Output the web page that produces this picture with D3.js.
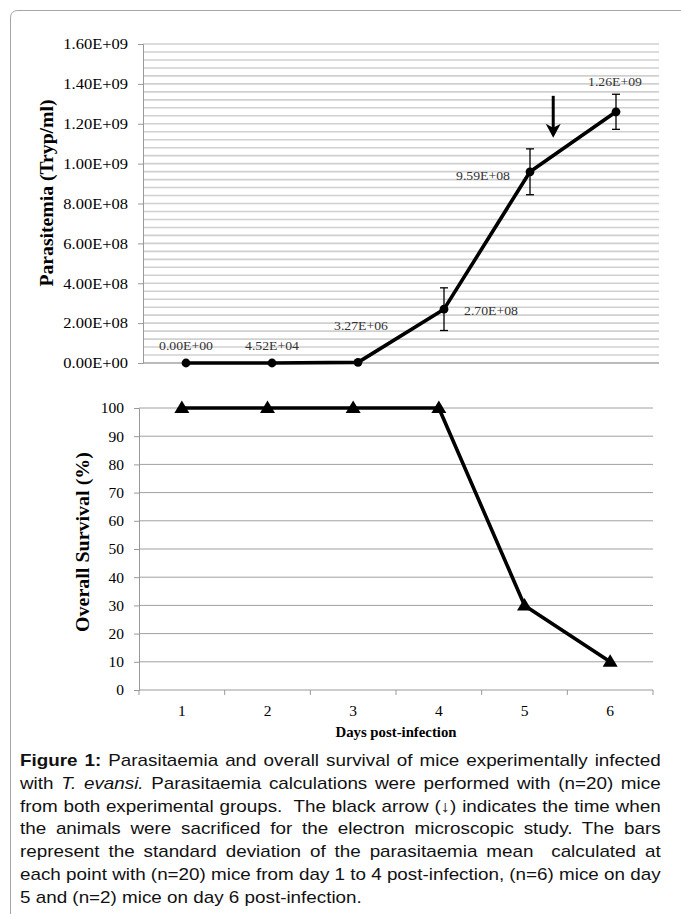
<!DOCTYPE html>
<html>
<head>
<meta charset="utf-8">
<script src="https://cdn.jsdelivr.net/npm/d3@7"></script>
<style>
  body { margin: 0; background: #fff; }
  svg { display: block; }
</style>
</head>
<body>
<div id="chart"></div>
<script>
const width = 681;
const height = 914;

// data
const days = ["1", "2", "3", "4", "5", "6"];
const parasitemia = [0, 4.52e4, 3.27e6, 2.70e8, 9.59e8, 1.26e9];
const parasitemiaSD = [0, 0, 0, 1.07e8, 1.15e8, 0.88e8];
const parasitemiaLabels = ["0.00E+00", "4.52E+04", "3.27E+06", "2.70E+08", "9.59E+08", "1.26E+09"];
const survival = [100, 100, 100, 100, 30, 10];
const parTicks = [0, 2e8, 4e8, 6e8, 8e8, 1e9, 1.2e9, 1.4e9, 1.6e9];
const parTickLabels = ["0.00E+00", "2.00E+08", "4.00E+08", "6.00E+08", "8.00E+08", "1.00E+09", "1.20E+09", "1.40E+09", "1.60E+09"];
const survTicks = [0, 10, 20, 30, 40, 50, 60, 70, 80, 90, 100];
// the sacrifice arrow, between day 5 and 6
const arrowDay = 5.27;
const arrowFrom = 1.34e9;
const arrowTo = 1.13e9;

const captionLines = [
    [["b", "Figure 1:"], ["n", " Parasitaemia and overall survival of mice experimentally infected"]],
    [["n", "with "], ["i", "T. evansi."], ["n", " Parasitaemia calculations were performed with (n=20) mice"]],
    [["n", "from both experimental groups.  The black arrow (\u2193) indicates the time when"]],
    [["n", "the animals were sacrificed for the electron microscopic study. The bars"]],
    [["n", "represent the standard deviation of the parasitaemia mean  calculated at"]],
    [["n", "each point with (n=20) mice from day 1 to 4 post-infection, (n=6) mice on day"]],
    [["n", "5 and (n=2) mice on day 6 post-infection."]]
];

const serif = "'Liberation Serif', 'Times New Roman', serif";
const sans = "'Liberation Sans', Arial, sans-serif";

// the original figure is a bit wider than tall, so serif text is stretched sideways
function stretch(sel, f) {
    sel.each(function() {
        const n = this.getComputedTextLength();
        d3.select(this).attr("textLength", n * f).attr("lengthAdjust", "spacingAndGlyphs");
    });
}

const svg = d3.select("#chart").append("svg")
    .attr("width", width)
    .attr("height", height);

// frame
svg.append("path")
    .attr("d", "M10.5,914 L10.5,18 Q10.5,10.5 18,10.5 L681,10.5")
    .attr("fill", "none")
    .attr("stroke", "#a6a6a6")
    .attr("stroke-width", 1);

// ---------- top chart: parasitemia ----------
const xTop = d3.scaleBand().domain(days).range([143, 659]);
const yTop = d3.scaleLinear().domain([0, 1.6e9]).range([363, 44]);
const cx = (scale, i) => scale(days[i]) + scale.bandwidth() / 2;

const topG = svg.append("g");

// minor + major gridlines every 4E+07
const minor = d3.range(0, 1.6e9 + 1, 4e7);
topG.append("g").selectAll("line")
    .data(minor)
    .join("line")
    .attr("x1", 143).attr("x2", 659)
    .attr("y1", d => yTop(d)).attr("y2", d => yTop(d))
    .attr("stroke", "#d0d0d0")
    .attr("stroke-width", 1.6);

const yAxisTop = d3.axisLeft(yTop)
    .tickValues(parTicks)
    .tickFormat((d, i) => parTickLabels[i])
    .tickSize(5)
    .tickPadding(10);
topG.append("g")
    .attr("transform", "translate(143,0)")
    .call(yAxisTop)
    .call(g => g.select(".domain").attr("stroke", "#999"))
    .call(g => g.selectAll(".tick line").attr("stroke", "#999"))
    .call(g => g.selectAll(".tick text")
        .attr("font-family", serif)
        .attr("font-size", 15)
        .attr("fill", "#000")
        .call(stretch, 1.1));

topG.append("line")
    .attr("x1", 143).attr("x2", 659)
    .attr("y1", yTop(0)).attr("y2", yTop(0))
    .attr("stroke", "#999");

topG.append("text")
    .attr("transform", "translate(53,193) rotate(-90)")
    .attr("text-anchor", "middle")
    .attr("font-family", serif)
    .attr("font-weight", "bold")
    .attr("font-size", 18.5)
    .attr("textLength", 187)
    .attr("lengthAdjust", "spacingAndGlyphs")
    .text("Parasitemia (Tryp/ml)");

const lineTop = d3.line()
    .x((d, i) => cx(xTop, i))
    .y(d => yTop(d));
topG.append("path")
    .datum(parasitemia)
    .attr("d", lineTop)
    .attr("fill", "none")
    .attr("stroke", "#000")
    .attr("stroke-width", 3.6)
    .attr("stroke-linejoin", "round");

// error bars
const errs = topG.append("g")
    .selectAll("g")
    .data(parasitemia.map((v, i) => ({v, sd: parasitemiaSD[i], i})).filter(d => d.sd > 0))
    .join("g")
    .attr("stroke", "#000")
    .attr("stroke-width", 1.3);
errs.append("line")
    .attr("x1", d => cx(xTop, d.i)).attr("x2", d => cx(xTop, d.i))
    .attr("y1", d => yTop(d.v + d.sd)).attr("y2", d => yTop(d.v - d.sd));
errs.append("line")
    .attr("x1", d => cx(xTop, d.i) - 4).attr("x2", d => cx(xTop, d.i) + 4)
    .attr("y1", d => yTop(d.v + d.sd)).attr("y2", d => yTop(d.v + d.sd));
errs.append("line")
    .attr("x1", d => cx(xTop, d.i) - 4).attr("x2", d => cx(xTop, d.i) + 4)
    .attr("y1", d => yTop(d.v - d.sd)).attr("y2", d => yTop(d.v - d.sd));

topG.append("g").selectAll("circle")
    .data(parasitemia)
    .join("circle")
    .attr("cx", (d, i) => cx(xTop, i))
    .attr("cy", d => yTop(d))
    .attr("r", 4.4)
    .attr("fill", "#000");

// data labels: where each one sits relative to its point
const labelPlace = [
    {dx: 0, dy: -17, anchor: "middle"},
    {dx: 0, dy: -17, anchor: "middle"},
    {dx: 3, dy: -37, anchor: "middle"},
    {dx: 20, dy: 1, anchor: "start"},
    {dx: -20, dy: 4, anchor: "end"},
    {dx: -1, dy: -30, anchor: "middle"}
];
topG.append("g").selectAll("text")
    .data(parasitemiaLabels)
    .join("text")
    .attr("x", (d, i) => cx(xTop, i) + labelPlace[i].dx)
    .attr("y", (d, i) => yTop(parasitemia[i]) + labelPlace[i].dy)
    .attr("dy", "0.35em")
    .attr("text-anchor", (d, i) => labelPlace[i].anchor)
    .attr("font-family", serif)
    .attr("font-size", 12.5)
    .attr("fill", "#333")
    .text(d => d)
    .call(stretch, 1.1);

// arrow
const xArrow = d3.scaleLinear().domain([1, 6]).range([cx(xTop, 0), cx(xTop, 5)]);
const ax = xArrow(arrowDay);
topG.append("line")
    .attr("x1", ax).attr("x2", ax)
    .attr("y1", yTop(arrowFrom)).attr("y2", yTop(arrowTo) - 8)
    .attr("stroke", "#000")
    .attr("stroke-width", 3);
topG.append("path")
    .attr("d", `M${ax - 7.5},${yTop(arrowTo) - 14} L${ax},${yTop(arrowTo)} L${ax + 7.5},${yTop(arrowTo) - 14} L${ax},${yTop(arrowTo) - 10} Z`)
    .attr("fill", "#000");

// ---------- bottom chart: survival ----------
const xBot = d3.scaleBand().domain(days).range([139, 653]);
const yBot = d3.scaleLinear().domain([0, 100]).range([690, 408]);
const botG = svg.append("g");

botG.append("g").selectAll("line")
    .data(survTicks.slice(1))
    .join("line")
    .attr("x1", 139).attr("x2", 653)
    .attr("y1", d => yBot(d)).attr("y2", d => yBot(d))
    .attr("stroke", "#a0a0a0")
    .attr("stroke-width", 1);

botG.append("g")
    .attr("transform", "translate(139,0)")
    .call(d3.axisLeft(yBot).tickValues(survTicks).tickSize(5).tickPadding(10))
    .call(g => g.select(".domain").attr("stroke", "#999"))
    .call(g => g.selectAll(".tick line").attr("stroke", "#999"))
    .call(g => g.selectAll(".tick text")
        .attr("font-family", serif)
        .attr("font-size", 15.5)
        .attr("fill", "#000"));

// x axis: ticks between categories
const xAxisBot = botG.append("g")
    .attr("transform", "translate(0,690)");
xAxisBot.append("line")
    .attr("x1", 139).attr("x2", 653)
    .attr("stroke", "#999");
xAxisBot.selectAll("line.tk")
    .data(days.concat(["end"]))
    .join("line")
    .attr("class", "tk")
    .attr("x1", (d, i) => i < days.length ? xBot(d) : 653)
    .attr("x2", (d, i) => i < days.length ? xBot(d) : 653)
    .attr("y1", 0).attr("y2", 5)
    .attr("stroke", "#999");
xAxisBot.selectAll("text")
    .data(days)
    .join("text")
    .attr("x", (d, i) => cx(xBot, i))
    .attr("y", 21)
    .attr("dy", "0.35em")
    .attr("text-anchor", "middle")
    .attr("font-family", serif)
    .attr("font-size", 15.5)
    .text(d => d);

botG.append("text")
    .attr("x", 396)
    .attr("y", 737)
    .attr("text-anchor", "middle")
    .attr("font-family", serif)
    .attr("font-weight", "bold")
    .attr("font-size", 15.5)
    .attr("textLength", 121)
    .attr("lengthAdjust", "spacingAndGlyphs")
    .text("Days post-infection");

botG.append("text")
    .attr("transform", "translate(89,542) rotate(-90)")
    .attr("text-anchor", "middle")
    .attr("font-family", serif)
    .attr("font-weight", "bold")
    .attr("font-size", 18.5)
    .attr("textLength", 180)
    .attr("lengthAdjust", "spacingAndGlyphs")
    .text("Overall Survival (%)");

const lineBot = d3.line()
    .x((d, i) => cx(xBot, i))
    .y(d => yBot(d));
botG.append("path")
    .datum(survival)
    .attr("d", lineBot)
    .attr("fill", "none")
    .attr("stroke", "#000")
    .attr("stroke-width", 3.6)
    .attr("stroke-linejoin", "round");

botG.append("g").selectAll("path")
    .data(survival)
    .join("path")
    .attr("transform", (d, i) => `translate(${cx(xBot, i)},${yBot(d)})`)
    .attr("d", "M0,-7.5 L7.5,5 L-7.5,5 Z")
    .attr("fill", "#000");

// ---------- caption ----------
// widened a little sideways so the longest line fills, the rest justified with word spacing
const capLeft = 20, capRight = 661;
const cap = svg.append("g")
    .attr("font-family", sans)
    .attr("font-size", 16)
    .attr("fill", "#111");
const capTexts = captionLines.map((parts, i) => {
    const t = cap.append("text")
        .attr("x", 0)
        .attr("y", 766 + i * 22.8)
        .attr("xml:space", "preserve");
    parts.forEach(([style, str]) => {
        t.append("tspan")
            .attr("font-weight", style === "b" ? "bold" : null)
            .attr("font-style", style === "i" ? "italic" : null)
            .text(str);
    });
    return t;
});
const naturals = capTexts.map(t => t.node().getComputedTextLength());
const longest = d3.max(naturals.slice(0, -1));
const sx = (capRight - capLeft) / longest;
cap.attr("transform", `translate(${capLeft},0) scale(${sx},1)`);
capTexts.forEach((t, i) => {
    if (i === capTexts.length - 1) return;
    const str = captionLines[i].map(p => p[1]).join("");
    const spaces = (str.match(/ /g) || []).length;
    const extra = ((capRight - capLeft) / sx - naturals[i]) / spaces;
    t.style("word-spacing", extra + "px");
});
</script>
</body>
</html>
